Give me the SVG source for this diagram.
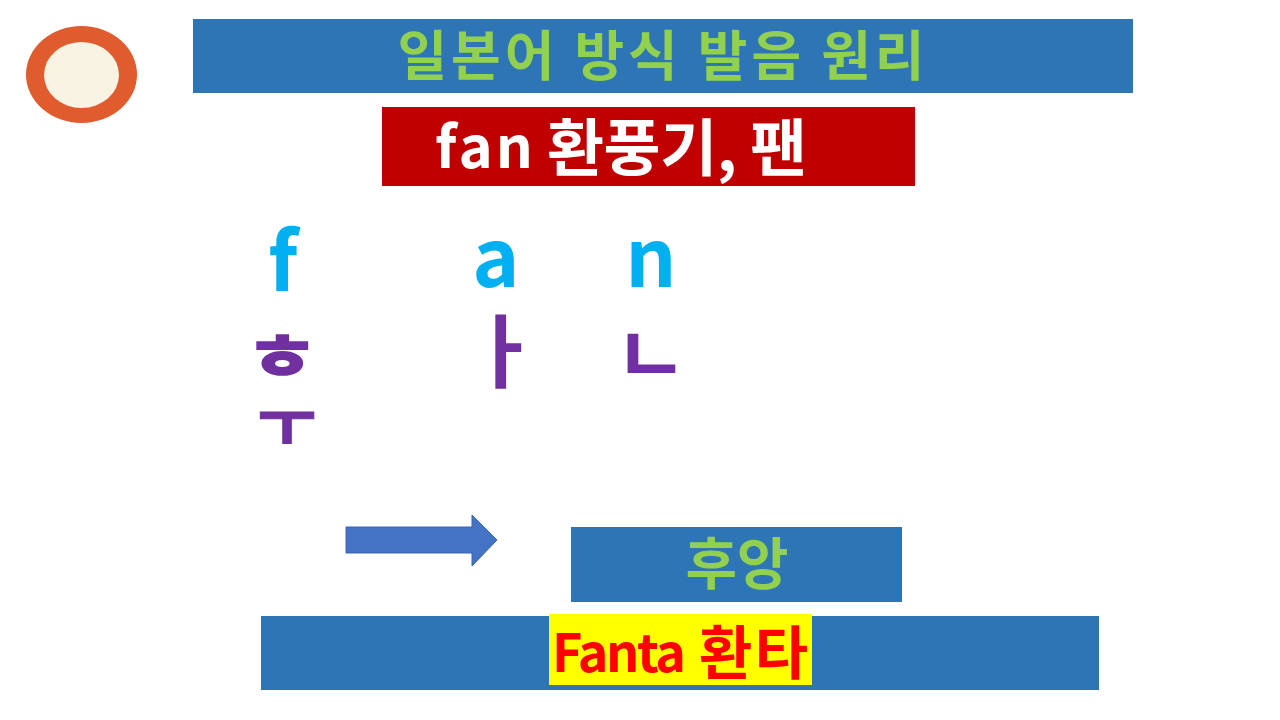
<svg xmlns="http://www.w3.org/2000/svg" width="1280" height="720" viewBox="0 0 1280 720">
<style>
text{font-family:"Noto Sans CJK KR","Malgun Gothic",sans-serif;font-weight:bold;}
.blue{fill:#2E75B6;}
.green{fill:#92D050;}
.latin{fill:#00B0F0;}
.jamo{fill:#7030A0;}
</style>
<rect width="1280" height="720" fill="#FFFFFF"/>
<g id="badge">
<ellipse cx="81.5" cy="74.5" rx="55.5" ry="48.5" fill="#E05C2E"/>
<ellipse cx="81.5" cy="75" rx="37.5" ry="33" fill="#F8F3E3"/>
</g>
<g id="title">
<rect class="blue" x="193" y="19" width="940" height="74"/>
<text class="green" x="661" y="76" font-size="54" text-anchor="middle" textLength="527" lengthAdjust="spacing">일본어 방식 발음 원리</text>
</g>
<g id="word">
<rect x="382" y="107" width="533" height="79" fill="#C00000"/>
<text fill="#FFFFFF"><tspan x="435" y="168" font-size="58" textLength="98" lengthAdjust="spacing">fan</tspan><tspan x="547" y="171" font-size="62" textLength="260" lengthAdjust="spacing">환풍기, 팬</tspan></text>
</g>
<g id="letters">
<text class="latin" x="283" y="291" font-size="80" text-anchor="middle">f</text>
<text class="latin" x="496" y="287" font-size="80" text-anchor="middle">a</text>
<text class="latin" x="651" y="287" font-size="80" text-anchor="middle">n</text>
</g>
<g id="jamo">
<text class="jamo" font-size="62" text-anchor="middle" stroke="#7030A0" stroke-width="2" transform="translate(282,380) scale(1.3,1)">ㅎ</text>
<text class="jamo" x="287" y="446" font-size="64" text-anchor="middle" stroke="#7030A0" stroke-width="1">ㅜ</text>
<text class="jamo" x="503" y="381" font-size="80" text-anchor="middle">ㅏ</text>
<text class="jamo" x="651" y="384" font-size="80" text-anchor="middle">ㄴ</text>
</g>
<g id="connectors">
<polygon points="346,527 472,527 472,515 497,540 472,566 472,553 346,553" fill="#4472C4" stroke="#3A65B0" stroke-width="1"/>
</g>
<g id="result">
<rect class="blue" x="571" y="527" width="331" height="75"/>
<text class="green" x="737" y="584" font-size="56" text-anchor="middle">후앙</text>
</g>
<g id="example">
<rect class="blue" x="261" y="616" width="838" height="74"/>
<rect x="549" y="614" width="263" height="71" fill="#FFFF00"/>
<text fill="#FF0000"><tspan x="552" y="672" font-size="52" textLength="134" lengthAdjust="spacing">Fanta</tspan><tspan x="699" y="674" font-size="58" textLength="109" lengthAdjust="spacing">환타</tspan></text>
</g>
</svg>
